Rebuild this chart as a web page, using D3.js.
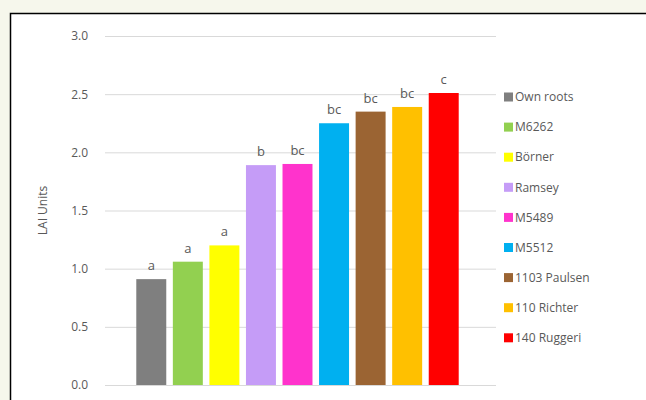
<!DOCTYPE html>
<html>
<head>
<meta charset="utf-8">
<script src="https://cdn.jsdelivr.net/npm/d3@7"></script>
<style>
  html, body { margin: 0; padding: 0; background: #f6f7ec; }
  svg { display: block; }
</style>
</head>
<body>
<div id="chart"></div>
<script>
// data
const rootstocks = ["Own roots", "M6262", "Börner", "Ramsey", "M5489", "M5512", "1103 Paulsen", "110 Richter", "140 Ruggeri"];
const laiValues = [0.91, 1.06, 1.20, 1.89, 1.90, 2.25, 2.35, 2.39, 2.51];
const groupLetters = ["a", "a", "a", "b", "bc", "bc", "bc", "bc", "c"];
const barColours = ["#7f7f7f", "#92d050", "#ffff00", "#c59cf7", "#ff33cc", "#00b0f0", "#9b6433", "#ffc000", "#ff0000"];
const yTicks = [0, 0.5, 1.0, 1.5, 2.0, 2.5, 3.0];

const width = 646, height = 400;
const font = "'Open Sans', 'Liberation Sans', sans-serif";
const textColour = "#595959";

const svg = d3.select("#chart")
    .append("svg")
    .attr("width", width)
    .attr("height", height);

// white panel with black top/left edge
svg.append("rect")
    .attr("x", 10).attr("y", 13)
    .attr("width", width - 10).attr("height", height - 13)
    .attr("fill", "#ffffff");
svg.append("path")
    .attr("d", `M10.5,${height}V13.5H${width}`)
    .attr("fill", "none")
    .attr("stroke", "#000")
    .attr("stroke-width", 1.5);

// scales
const y = d3.scaleLinear()
    .domain([0, 3])
    .range([385, 36]);

const x = d3.scaleBand()
    .domain(rootstocks)
    .range([133, 462])
    .paddingInner(0.18)
    .paddingOuter(0.09);

// gridlines + tick labels
const yAxis = d3.axisLeft(y)
    .tickValues(yTicks)
    .tickFormat(d3.format(".1f"))
    .tickSize(-(496 - 105))
    .tickPadding(17);

svg.append("g")
    .attr("transform", "translate(105,0)")
    .call(yAxis)
    .call(g => g.select(".domain").remove())
    .call(g => g.selectAll(".tick line").attr("stroke", "#d9d9d9").attr("stroke-width", 1))
    .call(g => g.selectAll(".tick text")
        .attr("fill", textColour)
        .style("font-family", font)
        .style("font-size", "12px"));

// axis title
svg.append("text")
    .attr("transform", `translate(47,${y(1.5)}) rotate(-90)`)
    .attr("text-anchor", "middle")
    .attr("fill", textColour)
    .style("font-family", font)
    .style("font-size", "12px")
    .text("LAI Units");

// bars
svg.selectAll("rect.bar")
    .data(rootstocks)
    .join("rect")
    .attr("class", "bar")
    .attr("x", d => x(d))
    .attr("width", x.bandwidth())
    .attr("y", (d, i) => y(laiValues[i]))
    .attr("height", (d, i) => y(0) - y(laiValues[i]))
    .attr("fill", (d, i) => barColours[i]);

// significance letters
svg.selectAll("text.letter")
    .data(rootstocks)
    .join("text")
    .attr("class", "letter")
    .attr("x", d => x(d) + x.bandwidth() / 2)
    .attr("y", (d, i) => y(laiValues[i]) - 9)
    .attr("text-anchor", "middle")
    .attr("fill", textColour)
    .style("font-family", font)
    .style("font-size", "13px")
    .text((d, i) => groupLetters[i]);

// legend
const legend = svg.append("g")
    .attr("transform", "translate(504,97)");

const rows = legend.selectAll("g")
    .data(rootstocks)
    .join("g")
    .attr("transform", (d, i) => `translate(0,${i * 30.1})`);

rows.append("rect")
    .attr("x", 0).attr("y", -4.5)
    .attr("width", 9).attr("height", 9)
    .attr("fill", (d, i) => barColours[i]);

rows.append("text")
    .attr("x", 11)
    .attr("dy", "0.35em")
    .attr("fill", textColour)
    .style("font-family", font)
    .style("font-size", "12px")
    .text(d => d);
</script>
</body>
</html>
